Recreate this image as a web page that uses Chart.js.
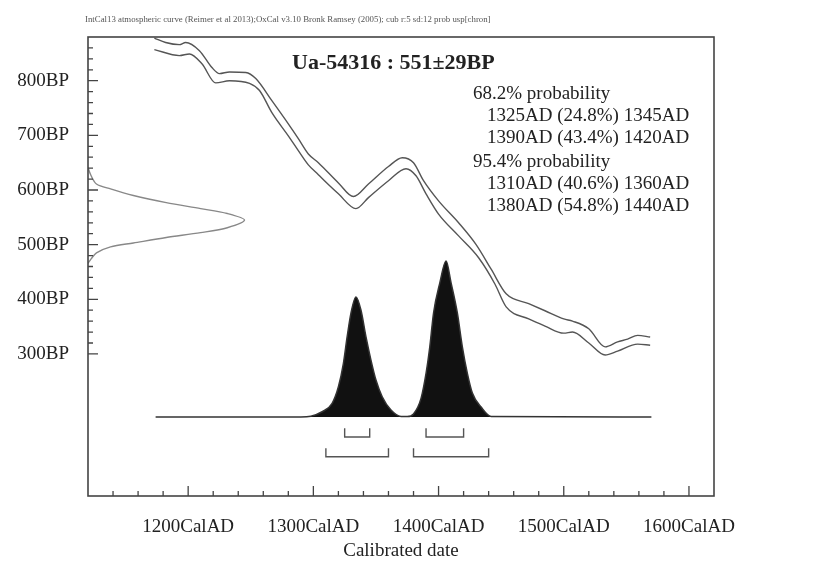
<!DOCTYPE html>
<html>
<head>
<meta charset="utf-8">
<script src="https://cdn.jsdelivr.net/npm/chart.js@4.4.1/dist/chart.umd.min.js"></script>
<style>
  body { margin: 0; background: #fff; }
  #wrap { width: 814px; height: 568px; }
</style>
</head>
<body>
<div id="wrap"><canvas id="chart" width="814" height="568"></canvas></div>
<script>
// IntCal13 band, upper and lower edge (cal AD / BP)
const upperYears = [1173, 1182, 1193, 1198, 1209, 1219, 1225, 1233, 1246, 1254, 1267, 1280, 1288, 1296, 1304, 1320, 1332, 1344, 1360, 1371, 1380, 1388, 1400, 1416, 1430, 1442, 1454, 1472, 1485, 1500, 1507, 1520, 1533, 1543, 1551, 1559, 1569];
const upperBP = [878, 870, 866, 870, 855, 824, 813, 816, 815, 804, 763, 721, 694, 666, 650, 613, 588, 611, 643, 659, 650, 617, 580, 540, 500, 455, 410, 392, 379, 364, 360, 346, 313, 322, 327, 334, 331];
const lowerYears = [1173, 1193, 1201, 1211, 1222, 1233, 1249, 1257, 1267, 1280, 1288, 1296, 1304, 1312, 1320, 1334, 1344, 1360, 1374, 1382, 1390, 1400, 1416, 1432, 1445, 1454, 1472, 1485, 1500, 1507, 1520, 1533, 1543, 1559, 1569];
const lowerBP = [857, 846, 849, 831, 796, 800, 795, 782, 741, 699, 672, 646, 628, 610, 593, 566, 586, 617, 639, 626, 593, 556, 516, 476, 428, 386, 364, 351, 338, 340, 320, 298, 305, 318, 316];

// measured date 551±29BP (relative density, drawn against the BP axis)
const dateBP = [641, 626, 611, 602, 590, 577, 566, 557, 545, 531, 522, 513, 503, 496, 485, 474, 466];
const dateDensity = [0, 0.02, 0.054, 0.144, 0.29, 0.5, 0.72, 0.89, 1.0, 0.89, 0.72, 0.5, 0.29, 0.144, 0.054, 0.02, 0];

// calibrated distribution (relative probability)
const calYears = [1174, 1290, 1298, 1307, 1315, 1320, 1324, 1327, 1330, 1334, 1338, 1342, 1346, 1350, 1355, 1362, 1370, 1375, 1380, 1386, 1390, 1393, 1396, 1401, 1406, 1410, 1415, 1419, 1423, 1427, 1434, 1442, 1570];
const calProb = [0, 0, 0.005, 0.034, 0.088, 0.194, 0.344, 0.515, 0.665, 0.77, 0.686, 0.515, 0.365, 0.237, 0.13, 0.045, 0.004, 0.003, 0.02, 0.12, 0.28, 0.45, 0.667, 0.86, 1.0, 0.86, 0.667, 0.45, 0.28, 0.154, 0.064, 0.004, 0];

// ranges
const ranges68 = [[1325, 1345], [1390, 1420]];
const ranges95 = [[1310, 1360], [1380, 1440]];

// tick labels
const xLabelYears = [1200, 1300, 1400, 1500, 1600];
const yLabelBP = [300, 400, 500, 600, 700, 800];

const headerText = 'IntCal13 atmospheric curve (Reimer et al 2013);OxCal v3.10 Bronk Ramsey (2005); cub r:5 sd:12 prob usp[chron]';
const titleText = 'Ua-54316 : 551\u00b129BP';
const probLines = [
    ['68.2% probability', 0],
    ['1325AD (24.8%) 1345AD', 1],
    ['1390AD (43.4%) 1420AD', 1],
    ['95.4% probability', 0],
    ['1310AD (40.6%) 1360AD', 1],
    ['1380AD (54.8%) 1440AD', 1]
];

const SERIF = '"Liberation Serif", "Times New Roman", serif';
const INK = '#222';

function toPoints(xs, ys) {
    return xs.map((x, i) => ({ x: x, y: ys[i] }));
}

function bracketPoints(ranges, top, bottom) {
    const pts = [];
    ranges.forEach(([a, b]) => {
        pts.push({ x: a, y: top }, { x: a, y: bottom }, { x: b, y: bottom }, { x: b, y: top });
        pts.push({ x: (a + b) / 2, y: null });
    });
    return pts;
}

const framePlugin = {
    id: 'frame',
    afterDraw(chart) {
        const { ctx, chartArea: a, scales: { x, y } } = chart;
        ctx.save();
        ctx.strokeStyle = '#444';
        ctx.lineWidth = 1.6;
        ctx.strokeRect(a.left, a.top, a.right - a.left, a.bottom - a.top);

        // inward tick marks
        ctx.lineWidth = 1.3;
        ctx.beginPath();
        x.ticks.forEach(t => {
            if (t.value < 1140 || t.value > 1600) return;
            const px = x.getPixelForValue(t.value);
            const len = t.value % 100 === 0 ? 10 : 5;
            ctx.moveTo(px, a.bottom);
            ctx.lineTo(px, a.bottom - len);
        });
        y.ticks.forEach(t => {
            if (t.value < 300 || t.value >= 880) return;
            const py = y.getPixelForValue(t.value);
            const len = t.value % 100 === 0 ? 10 : 5;
            ctx.moveTo(a.left, py);
            ctx.lineTo(a.left + len, py);
        });
        ctx.stroke();

        // header
        ctx.fillStyle = '#555';
        ctx.font = '8.8px ' + SERIF;
        ctx.textBaseline = 'alphabetic';
        ctx.fillText(headerText, 85, 22);

        // title
        ctx.fillStyle = INK;
        ctx.font = 'bold 22px ' + SERIF;
        ctx.fillText(titleText, 292, 69);

        // probability ranges
        ctx.font = '19px ' + SERIF;
        const baselines = [99, 121, 143, 167, 189, 211];
        probLines.forEach(([txt, indent], i) => {
            ctx.fillText(txt, indent ? 487 : 473, baselines[i]);
        });
        ctx.restore();
    }
};

const lineStyle = { pointRadius: 0, fill: false, borderWidth: 1.4 };

new Chart(document.getElementById('chart'), {
    type: 'line',
    data: {
        datasets: [
            Object.assign({ data: toPoints(upperYears, upperBP), borderColor: '#555', cubicInterpolationMode: 'monotone' }, lineStyle),
            Object.assign({ data: toPoints(lowerYears, lowerBP), borderColor: '#555', cubicInterpolationMode: 'monotone' }, lineStyle),
            Object.assign({ data: dateBP.map((bp, i) => ({ x: 1120 + dateDensity[i] * 125, y: bp })), borderColor: '#888', tension: 0.3 }, lineStyle),
            {
                data: toPoints(calYears, calProb),
                yAxisID: 'p',
                borderColor: '#333',
                backgroundColor: '#111',
                borderWidth: 1.5,
                pointRadius: 0,
                fill: 'origin',
                cubicInterpolationMode: 'monotone'
            },
            Object.assign({ data: bracketPoints(ranges68, -0.072, -0.128), yAxisID: 'p', borderColor: '#555', spanGaps: false }, lineStyle),
            Object.assign({ data: bracketPoints(ranges95, -0.2, -0.254), yAxisID: 'p', borderColor: '#555', spanGaps: false }, lineStyle)
        ]
    },
    options: {
        responsive: false,
        animation: false,
        layout: { padding: { top: 37, right: 100, bottom: 0, left: 0 } },
        plugins: { legend: { display: false }, tooltip: { enabled: false } },
        scales: {
            x: {
                type: 'linear',
                min: 1120,
                max: 1620,
                grid: { display: false },
                border: { display: false },
                ticks: {
                    stepSize: 20,
                    autoSkip: false,
                    maxRotation: 0,
                    padding: 12,
                    color: INK,
                    font: { family: SERIF, size: 19 },
                    callback: v => xLabelYears.includes(v) ? v + 'CalAD' : ''
                },
                title: {
                    display: true,
                    text: 'Calibrated date',
                    color: INK,
                    font: { family: SERIF, size: 19 },
                    padding: { top: 0, bottom: 6 }
                },
                afterFit: s => { s.height = 72; }
            },
            y: {
                position: 'left',
                min: 40,
                max: 880,
                grid: { display: false },
                border: { display: false },
                ticks: {
                    stepSize: 20,
                    autoSkip: false,
                    padding: 11,
                    color: INK,
                    font: { family: SERIF, size: 19 },
                    callback: v => yLabelBP.includes(v) ? v + 'BP' : ''
                },
                afterFit: s => { s.width = 88; }
            },
            p: {
                position: 'right',
                display: false,
                min: -0.506,
                max: 2.436
            }
        }
    },
    plugins: [framePlugin]
});
</script>
</body>
</html>
